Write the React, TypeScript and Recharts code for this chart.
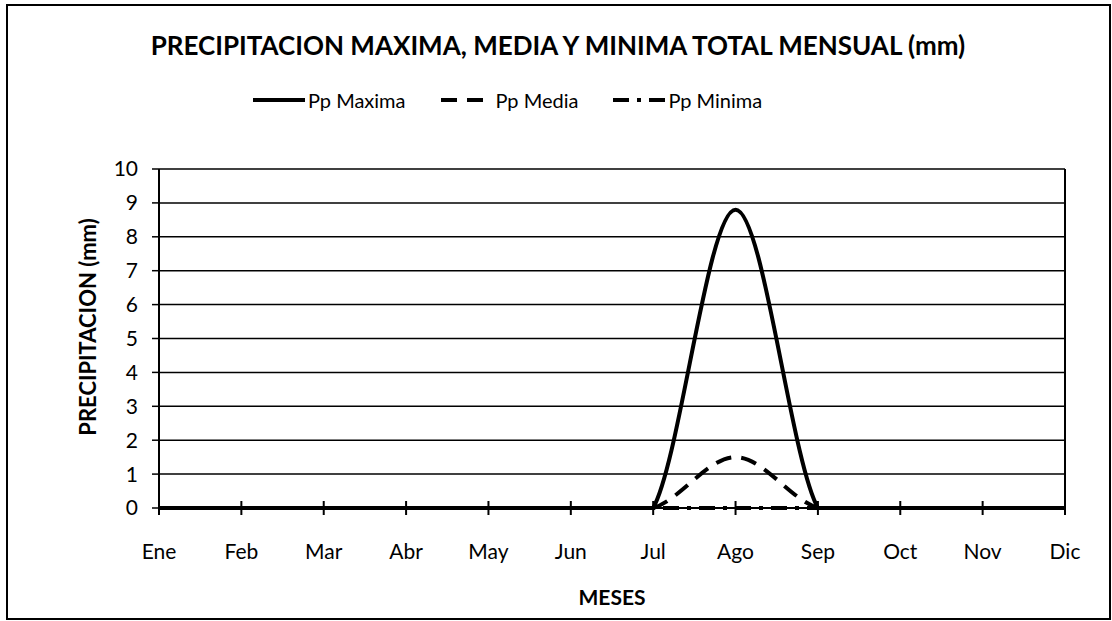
import React from "react"
import { LineChart, Line, XAxis, YAxis, CartesianGrid, Legend, ReferenceLine } from "recharts"

const meses = ["Ene", "Feb", "Mar", "Abr", "May", "Jun", "Jul", "Ago", "Sep", "Oct", "Nov", "Dic"]
const ppMaxima = [0, 0, 0, 0, 0, 0, 0, 8.8, 0, 0, 0, 0]
const ppMedia = [0, 0, 0, 0, 0, 0, 0, 1.5, 0, 0, 0, 0]
const ppMinima = [0, 0, 0, 0, 0, 0, 0, 0, 0, 0, 0, 0]
const yTicks = [0, 1, 2, 3, 4, 5, 6, 7, 8, 9, 10]
const legendOrder = ["Pp Maxima", "Pp Media", "Pp Minima"]

const FONT = "Lato, 'Open Sans', sans-serif"

// excel-like smoothed line: catmull-rom, straight where two points are level
function excelSmooth(context: any) {
  let pts: number[][] = []
  return {
    areaStart() {},
    areaEnd() {},
    lineStart() {
      pts = []
    },
    point(x: number, y: number) {
      pts.push([+x, +y])
    },
    lineEnd() {
      if (!pts.length) return
      context.moveTo(pts[0][0], pts[0][1])
      for (let i = 0; i < pts.length - 1; i++) {
        const p0 = pts[i - 1] || pts[i]
        const p1 = pts[i]
        const p2 = pts[i + 1]
        const p3 = pts[i + 2] || p2
        if (p1[1] === p2[1]) {
          context.lineTo(p2[0], p2[1])
          continue
        }
        context.bezierCurveTo(
          p1[0] + (p2[0] - p0[0]) / 6,
          p1[1] + (p2[1] - p0[1]) / 6,
          p2[0] - (p3[0] - p1[0]) / 6,
          p2[1] - (p3[1] - p1[1]) / 6,
          p2[0],
          p2[1]
        )
      }
    },
  }
}

const XTick = (props: any) => {
  const { x, y, payload } = props
  const axisY = y - 21
  return (
    <g>
      <line x1={x} x2={x} y1={axisY - 7} y2={axisY + 7} stroke="#000" strokeWidth={2} />
      <text x={x} y={axisY + 42} textAnchor="middle" dominantBaseline="central" fontSize={21} fill="#000" fontFamily={FONT}>
        {payload.value}
      </text>
    </g>
  )
}

const LegendContent = (props: any) => {
  const items = (props.payload || [])
    .slice()
    .sort((a: any, b: any) => legendOrder.indexOf(a.value) - legendOrder.indexOf(b.value))
  return (
    <div style={{ display: "flex", alignItems: "center", fontFamily: FONT, fontSize: 20, color: "#000" }}>
      {items.map((it: any, i: number) => (
        <div key={it.value} style={{ display: "flex", alignItems: "center", marginLeft: i === 0 ? 0 : 35 }}>
          <svg width={52} height={12}>
            <line x1={0} x2={52} y1={6} y2={6} stroke="#000" strokeWidth={4} strokeDasharray={it.payload.strokeDasharray} />
          </svg>
          <span style={{ marginLeft: 3 }}>{it.value}</span>
        </div>
      ))}
    </div>
  )
}

export default function App() {
  const data = meses.map((mes, i) => ({
    mes,
    "Pp Maxima": ppMaxima[i],
    "Pp Media": ppMedia[i],
    "Pp Minima": ppMinima[i],
  }))

  return (
    <div style={{ position: "absolute", left: 0, top: 0, width: 1112, height: 621, background: "#fff", fontFamily: FONT }}>
      <div style={{ position: "absolute", left: 6, top: 4, width: 1101, height: 612, border: "2px solid #000" }} />
      <div style={{ position: "absolute", left: 0, top: 29, width: 1116, textAlign: "center", fontSize: 26, fontWeight: 700, color: "#000" }}>
        PRECIPITACION MAXIMA, MEDIA Y MINIMA TOTAL MENSUAL (mm)
      </div>
      <div
        style={{
          position: "absolute",
          left: 87,
          top: 327,
          transform: "translate(-50%, -50%) rotate(-90deg)",
          whiteSpace: "nowrap",
          fontSize: 22,
          fontWeight: 700,
          color: "#000",
        }}
      >
        PRECIPITACION (mm)
      </div>
      <div style={{ position: "absolute", left: 0, top: 584, width: 1224, textAlign: "center", fontSize: 21, fontWeight: 700, color: "#000" }}>
        MESES
      </div>
      <LineChart width={1112} height={621} data={data} margin={{ top: 145, right: 47, bottom: 53, left: 99 }} style={{ position: "absolute", left: 0, top: 0 }}>
        <CartesianGrid vertical={false} stroke="#000" strokeWidth={1.5} />
        <XAxis dataKey="mes" interval={0} tickLine={false} tickSize={7} tickMargin={14} height={60} axisLine={{ stroke: "#000", strokeWidth: 2 }} tick={<XTick />} />
        <YAxis
          domain={[0, 10]}
          ticks={yTicks}
          interval={0}
          width={60}
          tickSize={7}
          tickMargin={14}
          axisLine={{ stroke: "#000", strokeWidth: 2 }}
          tickLine={{ stroke: "#000", strokeWidth: 1.5 }}
          tick={{ fill: "#000", fontSize: 21, fontFamily: FONT }}
        />
        <ReferenceLine x="Dic" stroke="#000" strokeWidth={2} />
        <Legend verticalAlign="top" content={<LegendContent />} wrapperStyle={{ top: 88, left: 253, width: "auto" }} />
        <Line type={excelSmooth as any} dataKey="Pp Minima" stroke="#000" strokeWidth={4} strokeDasharray="16 8 4 8" dot={false} isAnimationActive={false} />
        <Line type={excelSmooth as any} dataKey="Pp Media" stroke="#000" strokeWidth={4} strokeDasharray="16 10" dot={false} isAnimationActive={false} />
        <Line type={excelSmooth as any} dataKey="Pp Maxima" stroke="#000" strokeWidth={4} dot={false} isAnimationActive={false} />
      </LineChart>
    </div>
  )
}
